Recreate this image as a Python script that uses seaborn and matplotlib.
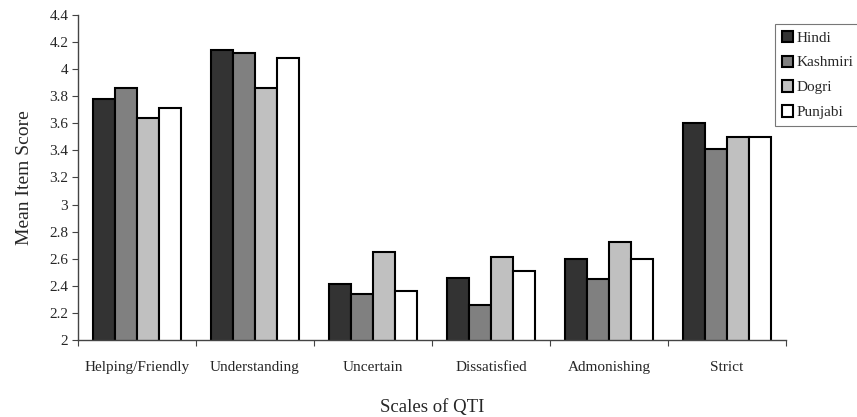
import matplotlib
matplotlib.use("Agg")
import matplotlib.pyplot as plt
import seaborn as sns
import pandas as pd
import numpy as np
from matplotlib.ticker import FixedLocator

categories = ["Helping/Friendly", "Understanding", "Uncertain", "Dissatisfied", "Admonishing", "Strict"]
languages = ["Hindi", "Kashmiri", "Dogri", "Punjabi"]
hindi = [3.78, 4.14, 2.41, 2.46, 2.60, 3.60]
kashmiri = [3.86, 4.12, 2.34, 2.26, 2.45, 3.41]
dogri = [3.64, 3.86, 2.65, 2.61, 2.72, 3.50]
punjabi = [3.71, 4.08, 2.36, 2.51, 2.60, 3.50]
yticks = [2, 2.2, 2.4, 2.6, 2.8, 3, 3.2, 3.4, 3.6, 3.8, 4, 4.2, 4.4]
ytick_labels = ["2", "2.2", "2.4", "2.6", "2.8", "3", "3.2", "3.4", "3.6", "3.8", "4", "4.2", "4.4"]

rows = []
for lang, vals in zip(languages, [hindi, kashmiri, dogri, punjabi]):
    for c, v in zip(categories, vals):
        rows.append({"Scale": c, "Language": lang, "Score": v})
df = pd.DataFrame(rows)

sns.set_theme(style="white")
plt.rcParams["font.family"] = ["Liberation Serif", "DejaVu Serif"]

colors = ["#333333", "#808080", "#c0c0c0", "#ffffff"]

fig = plt.figure(figsize=(8.57, 4.17), dpi=100)
ax = fig.add_axes([0.091, 0.185, 0.826, 0.779])

sns.barplot(data=df, x="Scale", y="Score", hue="Language", hue_order=languages,
            order=categories, palette=colors, width=0.74, gap=0,
            edgecolor="black", linewidth=1.5, ax=ax, legend=True)

ax.set_ylim(2, 4.4)
ax.set_xlim(-0.5, len(categories) - 0.5)
ax.set_yticks(yticks)
ax.set_yticklabels(ytick_labels, fontsize=11)
ax.tick_params(axis="y", which="major", left=True, length=4, width=0.8, color="#444444", pad=3)
ax.tick_params(axis="x", which="major", bottom=False, labelsize=11, pad=9)
ax.xaxis.set_minor_locator(FixedLocator(np.arange(-0.5, len(categories), 1.0)))
ax.tick_params(axis="x", which="minor", bottom=True, length=4, width=0.8, color="#444444")

for s in ["top", "right"]:
    ax.spines[s].set_visible(False)
for s in ["left", "bottom"]:
    ax.spines[s].set_color("#444444")
    ax.spines[s].set_linewidth(1.0)

ax.set_xlabel("Scales of QTI", fontsize=13.5, labelpad=18)
ax.set_ylabel("Mean Item Score", fontsize=14, labelpad=12)

handles, labels = ax.get_legend_handles_labels()
ax.legend_.remove()
leg = fig.legend(handles, labels, loc="upper left", bbox_to_anchor=(0.904, 0.943),
                 frameon=True, fancybox=False, edgecolor="#555555", fontsize=11,
                 handlelength=0.75, handleheight=0.75, handletextpad=0.2,
                 labelspacing=0.72, borderpad=0.45, borderaxespad=0)
leg.get_frame().set_linewidth(0.8)

fig.savefig("out.png", dpi=100)
